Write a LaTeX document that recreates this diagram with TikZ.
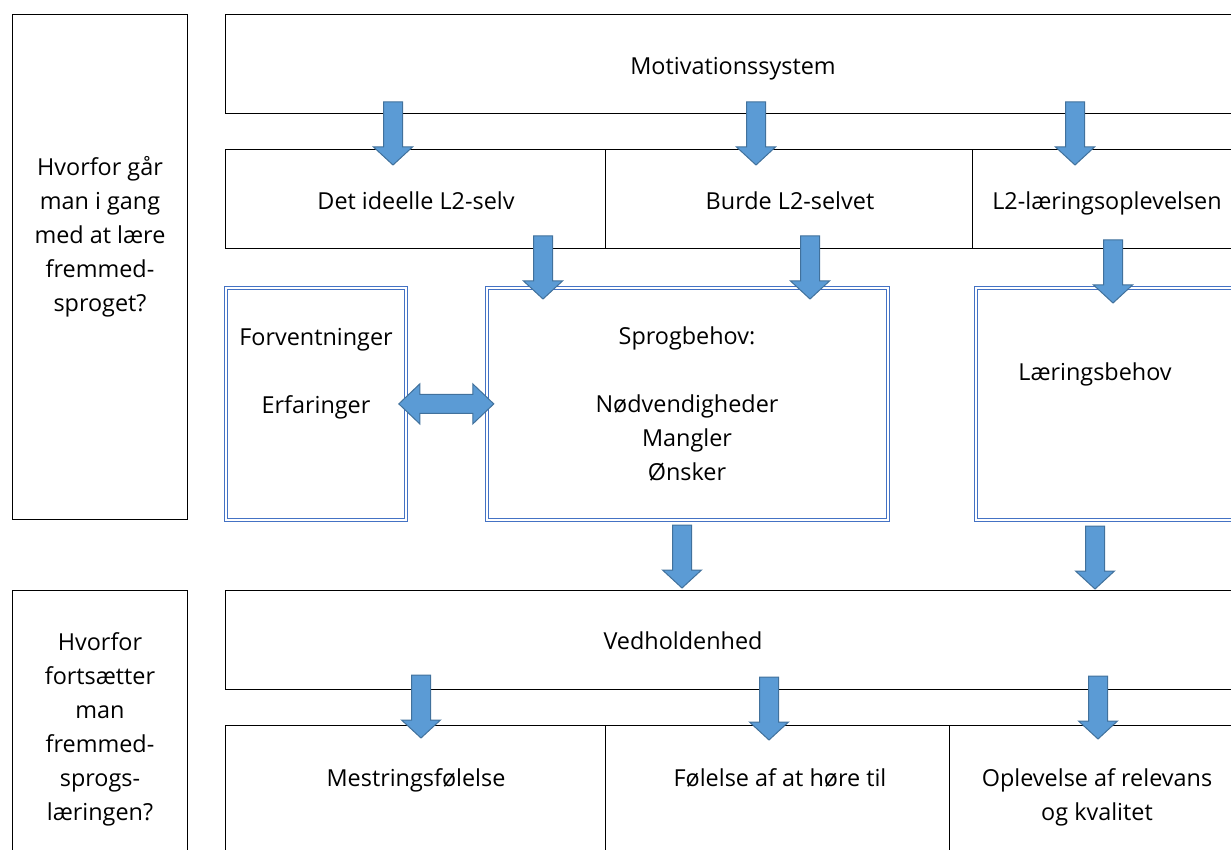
\documentclass[tikz,border=0pt]{standalone}
\usepackage{fontspec}
\setmainfont{Open Sans}
\usetikzlibrary{positioning}
\definecolor{arrowfill}{HTML}{5B9BD5}
\definecolor{arrowedge}{HTML}{41719C}
\definecolor{frameblue}{HTML}{4472C4}
\tikzset{
  box/.style={draw, rectangle, line width=1.1pt, anchor=north west, inner sep=0pt},
  dbox/.style={draw=frameblue, double=white, double distance=2pt, line width=0.8pt,
    rectangle, anchor=north west, inner sep=0pt},
  txt/.style={align=center, anchor=base, inner sep=0pt,
    font=\fontsize{23.4}{34}\selectfont},
  blockarrow/.style={fill=arrowfill, draw=arrowedge, line width=1pt, line join=miter}
}
% block arrow pointing down, top centre at #1
\newcommand{\downblock}[1]{%
  \draw[blockarrow, shift={(#1)}] (-9.5,0) -- (9.5,0) -- (9.5,45) -- (19.5,45)
    -- (0,63) -- (-19.5,45) -- (-9.5,45) -- cycle;}

\begin{document}
\begin{tikzpicture}[x=1pt, y=-1pt]
  \useasboundingbox (0,0) rectangle (1231,850);

  % left question boxes
  \node [box, minimum width=175pt, minimum height=505pt] (q1) at (12,14) {};
  \node [box, minimum width=175pt, minimum height=320pt] (q2) at (12,590) {};

  % top part
  \node [box, minimum width=1016pt, minimum height=99pt] (motiv) at (225,14) {};
  \node [box, minimum width=380pt, minimum height=99pt] (ideal) at (225,149) {};
  \node [box, minimum width=367pt, minimum height=99pt] (ought) at (605,149) {};
  \node [box, minimum width=280pt, minimum height=99pt] (exper) at (972,149) {};

  % double framed boxes
  \node [dbox, minimum width=180pt, minimum height=232pt] (forv) at (225.5,287.5) {};
  \node [dbox, minimum width=401pt, minimum height=232pt] (sprog) at (486.5,287.5) {};
  \node [dbox, minimum width=300pt, minimum height=232pt] (laer) at (975.5,287.5) {};

  % lower part
  \node [box, minimum width=1030pt, minimum height=99pt] (vedh) at (225,590) {};
  \node [box, minimum width=380pt, minimum height=200pt] (mestr) at (225,725) {};
  \node [box, minimum width=344pt, minimum height=200pt] (hoere) at (605,725) {};
  \node [box, minimum width=300pt, minimum height=200pt] (relev) at (949,725) {};

  % texts (anchored at the baseline of the last line)
  \node [txt] (tq1) at (100,312) {Hvorfor går\\man i gang\\med at lære\\fremmed-\\sproget?};
  \node [txt] (tq2) at (100,820) {Hvorfor\\fortsætter\\man\\fremmed-\\sprogs-\\læringen?};
  \node [txt] (tmotiv) at (733,75) {Motivationssystem};
  \node [txt] (tideal) at (416,210) {Det ideelle L2-selv};
  \node [txt] (tought) at (790,210) {Burde L2-selvet};
  \node [txt] (texper) at (1107,210) {L2-læringsoplevelsen};
  \node [txt] (tforv) at (316,413) {Forventninger\\[34pt]Erfaringer};
  \node [txt] (tsprog) at (687,480) {Sprogbehov:\\[34pt]Nødvendigheder\\Mangler\\Ønsker};
  \node [txt] (tlaer) at (1095,380) {Læringsbehov};
  \node [txt] (tvedh) at (683,649) {Vedholdenhed};
  \node [txt] (tmestr) at (416,786) {Mestringsfølelse};
  \node [txt] (thoere) at (780,786) {Følelse af at høre til};
  \node [txt] (trelev) at (1097,820) {Oplevelse af relevans\\og kvalitet};

  % arrows
  \coordinate (a1) at (393,102);
  \coordinate (a2) at (756,102);
  \coordinate (a3) at (1075,102);
  \coordinate (b1) at (543,236);
  \coordinate (b2) at (810,236);
  \coordinate (b3) at (1113,240);
  \coordinate (c1) at (682,525);
  \coordinate (c2) at (1095,526);
  \coordinate (d1) at (421,675);
  \coordinate (d2) at (769,677);
  \coordinate (d3) at (1098,676);
  \foreach \p in {a1,a2,a3,b1,b2,b3,c1,c2,d1,d2,d3} {\downblock{\p}}

  % double arrow between Forventninger and Sprogbehov
  \draw [blockarrow] (forv.east) ++(-7.5,0) coordinate (l)
    -- ++(21,-20) -- ++(0,10.5) -- ++(53,0) -- ++(0,-10.5) -- ++(21,20)
    -- ++(-21,20) -- ++(0,-10.5) -- ++(-53,0) -- ++(0,10.5) -- cycle;
\end{tikzpicture}
\end{document}
